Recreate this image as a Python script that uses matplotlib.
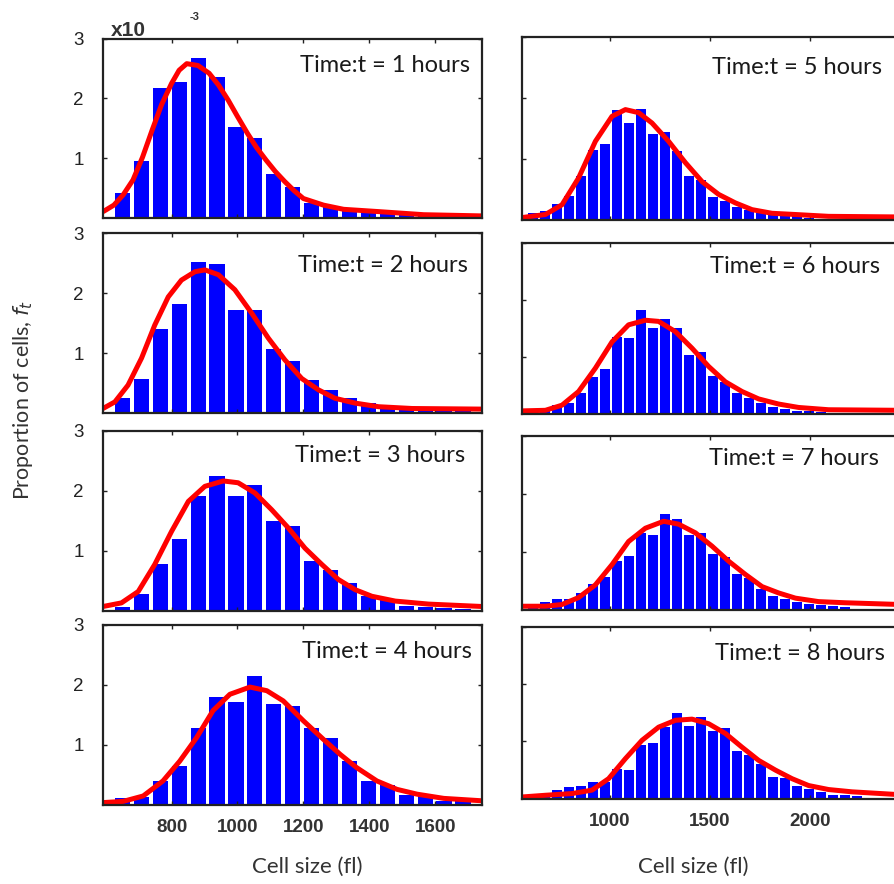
import numpy as np
import matplotlib
matplotlib.use('Agg')
import matplotlib.pyplot as plt

W, H = 895, 884

# histogram bins (cell size, fl)
left_start, left_step = 651, 57.4
right_start, right_step = 615, 60

# bar heights, units of 1e-3
h1 = [0.43, 0.96, 2.18, 2.27, 2.67, 2.36, 1.52, 1.34, 0.74, 0.52, 0.25, 0.21, 0.14, 0.10, 0.08, 0.06, 0.05, 0.04, 0.03]
h2 = [0.25, 0.58, 1.40, 1.82, 2.53, 2.49, 1.73, 1.73, 1.08, 0.88, 0.56, 0.39, 0.25, 0.17, 0.11, 0.08, 0.07, 0.06, 0.05]
h3 = [0.06, 0.27, 0.77, 1.20, 1.91, 2.25, 1.91, 2.10, 1.49, 1.41, 0.83, 0.67, 0.46, 0.24, 0.18, 0.08, 0.06, 0.04, 0.03]
h4 = [0.11, 0.13, 0.40, 0.64, 1.28, 1.80, 1.71, 2.14, 1.68, 1.65, 1.28, 1.12, 0.73, 0.40, 0.33, 0.17, 0.15, 0.07, 0.06]
h5 = [0.11, 0.14, 0.26, 0.39, 0.72, 1.14, 1.25, 1.80, 1.59, 1.82, 1.41, 1.44, 1.13, 0.72, 0.66, 0.37, 0.31, 0.21,
      0.17, 0.11, 0.09, 0.08, 0.06, 0.04]
h6 = [0.03, 0.06, 0.17, 0.20, 0.37, 0.66, 0.80, 1.36, 1.33, 1.83, 1.51, 1.68, 1.51, 1.04, 1.10, 0.67, 0.56, 0.37,
      0.28, 0.19, 0.13, 0.09, 0.06, 0.05, 0.04]
h7 = [0.03, 0.13, 0.18, 0.18, 0.29, 0.44, 0.56, 0.84, 0.93, 1.33, 1.30, 1.66, 1.57, 1.29, 1.32, 0.96, 0.92, 0.61,
      0.55, 0.36, 0.24, 0.18, 0.13, 0.10, 0.08, 0.06, 0.05]
h8 = [0.03, 0.06, 0.15, 0.20, 0.22, 0.30, 0.30, 0.52, 0.51, 0.93, 0.97, 1.25, 1.50, 1.27, 1.43, 1.19, 1.23, 0.83,
      0.76, 0.61, 0.38, 0.37, 0.23, 0.17, 0.12, 0.07, 0.06, 0.04]

# fitted curves
c1x = [592, 625, 653, 683, 712, 741, 770, 800, 823, 846, 880, 914, 943, 972, 1000, 1030, 1058, 1087, 1115, 1144,
       1172, 1200, 1261, 1322, 1433, 1565, 1742]
c1y = [0.11, 0.22, 0.39, 0.64, 1.02, 1.47, 1.90, 2.25, 2.47, 2.58, 2.55, 2.42, 2.22, 1.97, 1.70, 1.42, 1.18, 0.97,
       0.78, 0.61, 0.46, 0.33, 0.22, 0.15, 0.11, 0.06, 0.04]
c2x = [592, 628, 668, 709, 749, 790, 830, 871, 901, 942, 992, 1043, 1094, 1144, 1195, 1246, 1296, 1357, 1428, 1530, 1742]
c2y = [0.08, 0.19, 0.47, 0.92, 1.47, 1.94, 2.22, 2.36, 2.39, 2.31, 2.06, 1.67, 1.25, 0.89, 0.58, 0.39, 0.25, 0.17,
       0.11, 0.08, 0.07]
c3x = [592, 648, 699, 749, 800, 851, 901, 957, 1002, 1053, 1104, 1154, 1205, 1256, 1306, 1357, 1408, 1479, 1580, 1742]
c3y = [0.07, 0.13, 0.32, 0.77, 1.32, 1.82, 2.07, 2.16, 2.13, 1.96, 1.68, 1.38, 1.04, 0.77, 0.52, 0.35, 0.24, 0.16,
       0.11, 0.07]
c4x = [592, 653, 714, 774, 825, 876, 926, 977, 1038, 1089, 1139, 1200, 1261, 1312, 1362, 1423, 1484, 1545, 1626, 1742]
c4y = [0.04, 0.06, 0.15, 0.40, 0.73, 1.12, 1.57, 1.84, 1.96, 1.90, 1.73, 1.40, 1.09, 0.84, 0.62, 0.40, 0.26, 0.18,
       0.11, 0.07]
c5x = [560, 677, 760, 843, 927, 1010, 1077, 1143, 1210, 1293, 1377, 1460, 1543, 1627, 1710, 1810, 1927, 2093, 2450]
c5y = [0.04, 0.09, 0.25, 0.69, 1.29, 1.70, 1.81, 1.76, 1.59, 1.29, 0.94, 0.63, 0.42, 0.28, 0.17, 0.11, 0.09, 0.06, 0.05]
c6x = [560, 677, 760, 843, 927, 1010, 1093, 1177, 1243, 1327, 1410, 1493, 1577, 1660, 1743, 1843, 1943, 2093, 2450]
c6y = [0.06, 0.07, 0.16, 0.40, 0.81, 1.27, 1.57, 1.65, 1.63, 1.45, 1.16, 0.84, 0.57, 0.40, 0.27, 0.18, 0.12, 0.08, 0.07]
c7x = [560, 677, 760, 843, 927, 1010, 1093, 1177, 1268, 1343, 1427, 1510, 1593, 1677, 1760, 1843, 1927, 2043, 2177, 2450]
c7y = [0.06, 0.06, 0.09, 0.21, 0.43, 0.78, 1.18, 1.41, 1.53, 1.48, 1.33, 1.10, 0.84, 0.61, 0.40, 0.29, 0.20, 0.14,
       0.12, 0.09]
c8x = [560, 677, 810, 910, 993, 1077, 1160, 1243, 1327, 1410, 1493, 1577, 1660, 1743, 1827, 1910, 1993, 2093, 2210, 2450]
c8y = [0.03, 0.06, 0.09, 0.15, 0.35, 0.70, 1.02, 1.25, 1.37, 1.39, 1.31, 1.14, 0.90, 0.67, 0.50, 0.35, 0.23, 0.16,
       0.12, 0.07]

hours = [1, 2, 3, 4, 5, 6, 7, 8]
left_ticks = [800, 1000, 1200, 1400, 1600]
right_ticks = [1000, 1500, 2000]

fig = plt.figure(figsize=(W / 100, H / 100), dpi=100)


def add_axes(x0, x1, y0, y1):
    # pixel box -> figure fraction
    return fig.add_axes([x0 / W, 1 - y1 / H, (x1 - x0) / W, (y1 - y0) / H])


left_rows = [(38.5, 218.3), (233.3, 413.3), (430.5, 610.7), (624.5, 805)]
right_rows = [(37, 220), (243.3, 414.3), (436.3, 609.7), (627, 798.7)]
left_text = [(470, 71.7), (468, 271.7), (465, 462.3), (471.7, 657.7)]
right_text = [(882, 74), (880, 273.3), (878.7, 464.7), (885, 659.7)]

heights = [h1, h2, h3, h4, h5, h6, h7, h8]
curves = [(c1x, c1y), (c2x, c2y), (c3x, c3y), (c4x, c4y),
          (c5x, c5y), (c6x, c6y), (c7x, c7y), (c8x, c8y)]

for i in range(8):
    left_col = i < 4
    row = i % 4
    if left_col:
        y0, y1 = left_rows[row]
        x0, x1 = 103, 482
        xlim = (592, 1742)
        centers = left_start + left_step * np.arange(len(heights[i]))
        width = 0.8 * left_step
        ticks = left_ticks
        tx, ty = left_text[row]
    else:
        y0, y1 = right_rows[row]
        x0, x1 = 522, 900
        xlim = (560, 2450)
        centers = right_start + right_step * np.arange(len(heights[i]))
        width = 0.82 * right_step
        ticks = right_ticks
        tx, ty = right_text[row]

    ax = add_axes(x0, x1, y0, y1)
    ax.bar(centers, heights[i], width=width, color='#0000ff', linewidth=0)
    cx, cy = curves[i]
    ax.plot(cx, cy, color='#ff0000', lw=3.6, solid_capstyle='butt', solid_joinstyle='round')
    ax.set_xlim(*xlim)
    ax.set_ylim(0, 3)
    ax.set_yticks([1, 2, 3])
    ax.set_xticks(ticks)
    ax.tick_params(direction='in', length=3, width=1, top=True, right=left_col, colors='#222222')
    for s in ax.spines.values():
        s.set_linewidth(1.6)
        s.set_color('#222222')

    if left_col:
        ax.set_yticklabels(['1', '2', '3'], fontfamily='Liberation Sans', fontsize=13.5)
        ax.tick_params(axis='y', pad=14, labelcolor='#222222')
    else:
        ax.set_yticklabels([])

    if row == 3:
        ax.set_xticklabels([str(t) for t in ticks], fontfamily='Liberation Sans',
                           fontsize=13.5, fontweight='bold')
        ax.tick_params(axis='x', pad=10, labelcolor='#333333')
    else:
        ax.set_xticklabels([])

    fig.text(tx / W, 1 - ty / H, 'Time:t = %d hours' % hours[i], ha='right', va='baseline',
             fontfamily='Lato', fontsize=17, color='#1a1a1a')

# axis labels
fig.text(307 / W, 1 - 867 / H, 'Cell size (fl)', ha='center', va='center',
         fontfamily='Lato', fontsize=16, color='#333333')
fig.text(693 / W, 1 - 867 / H, 'Cell size (fl)', ha='center', va='center',
         fontfamily='Lato', fontsize=16, color='#333333')
fig.text(23 / W, 1 - 400 / H, 'Proportion of cells, $f_t$', ha='center', va='center',
         rotation=90, fontfamily='Lato', fontsize=15.5, color='#333333')

# exponent marker
fig.text(111 / W, 1 - 36 / H, 'x10', ha='left', va='baseline', fontfamily='Liberation Sans',
         fontsize=15, fontweight='bold', color='#333333')
fig.text(190 / W, 1 - 20 / H, '-3', ha='left', va='baseline', fontfamily='Liberation Sans',
         fontsize=8, fontweight='bold', color='#333333')

fig.savefig('out.png', dpi=100)
